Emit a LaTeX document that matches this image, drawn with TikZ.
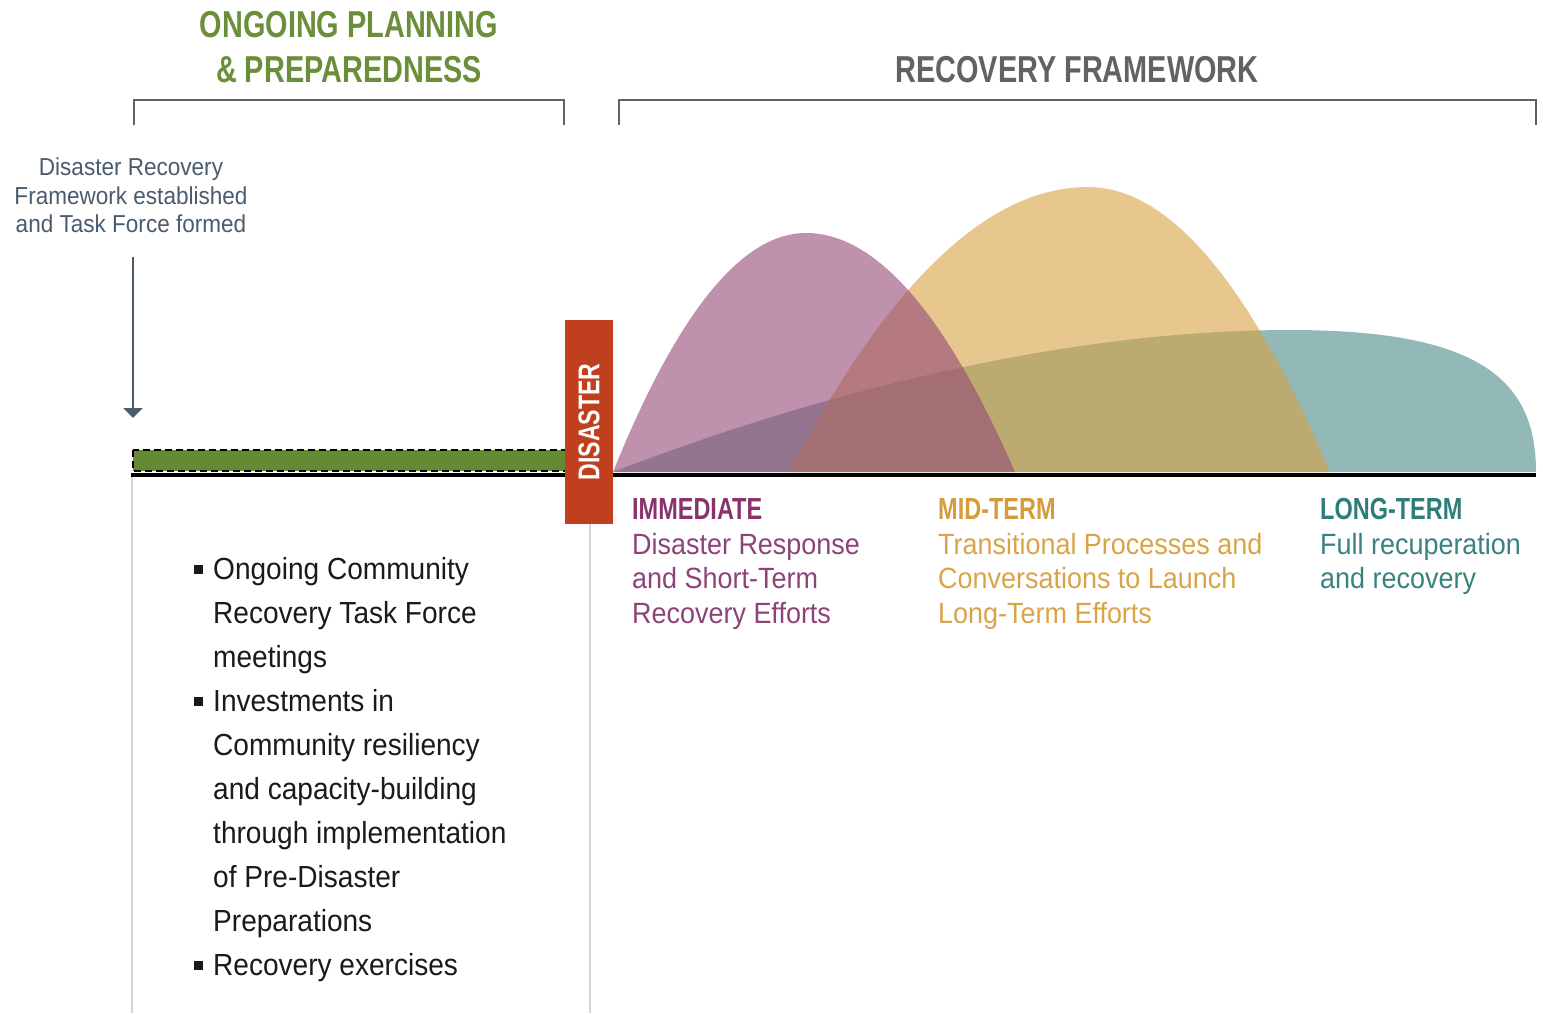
\documentclass[tikz,border=0pt]{standalone}
\usepackage{fontspec}
\setmainfont{Liberation Sans}[FakeStretch=0.92]
\newfontfamily\condbf{Liberation Sans}[FakeStretch=0.77]
\usetikzlibrary{arrows.meta}
\definecolor{purplec}{RGB}{148,72,118}
\definecolor{orangec}{RGB}{217,162,67}
\definecolor{tealc}{RGB}{73,138,137}
\definecolor{greenc}{RGB}{100,139,52}
\definecolor{greentitle}{RGB}{107,142,58}
\definecolor{graytitle}{RGB}{98,98,98}
\definecolor{slatec}{RGB}{74,91,108}
\definecolor{redc}{RGB}{191,63,31}
\definecolor{immc}{RGB}{138,50,110}
\definecolor{immtxt}{RGB}{140,68,120}
\definecolor{midc}{RGB}{214,155,58}
\definecolor{midtxt}{RGB}{216,164,74}
\definecolor{longc}{RGB}{47,125,123}
\definecolor{longtxt}{RGB}{56,130,128}
\definecolor{vline}{RGB}{212,212,212}
\definecolor{bodytxt}{RGB}{26,26,26}
\tikzset{
  bracket/.style={draw=graytitle, line width=1.8pt},
  title/.style={inner sep=0pt, align=center, font=\condbf\bfseries\fontsize{37.5}{45}\selectfont},
  head/.style={inner sep=0pt, anchor=north west, align=left, font=\condbf\bfseries\fontsize{30.5}{35}\selectfont},
  label/.style={inner sep=0pt, anchor=north west, align=left, font=\fontsize{29.3}{34.5}\selectfont},
  blob/.style={opacity=0.6},
}
\newcommand{\bul}{\makebox[19pt][l]{\raisebox{5.5pt}{\rule{9pt}{9pt}}}}
\begin{document}
\begin{tikzpicture}[x=1pt,y=-1pt]
\useasboundingbox (0,0) rectangle (1543,1013);
% titles
\node[title, text=greentitle, anchor=north] (t1) at (349,11) {ONGOING PLANNING\\\& PREPAREDNESS};
\node[title, text=graytitle, anchor=north] (t2) at (1077,56) {RECOVERY FRAMEWORK};
% brackets
\draw[bracket] (134,125) -- (134,100) -- (564,100) -- (564,125);
\draw[bracket] (619,125) -- (619,100) -- (1536,100) -- (1536,125);
% top-left note
\node[inner sep=0pt, anchor=north, align=center, text=slatec, font=\fontsize{24.5}{28.5}\selectfont] (drf) at (131,158) {Disaster Recovery\\Framework established\\and Task Force formed};
\coordinate (arrtop) at (133,257);
\coordinate (arrbot) at (133,418);
\draw[slatec, line width=2pt, -{Triangle[width=19pt,length=10pt]}] (arrtop) -- (arrbot);
% gray verticals
\draw[vline, line width=2pt] (132,477) -- (132,1013);
\draw[vline, line width=2pt] (590,524) -- (590,1013);
% curves
\fill[tealc, blob] (613,472) .. controls (800,400) and (1050,330) .. (1290,330) .. controls (1480,330) and (1536,380) .. (1536,472) -- cycle;
\fill[orangec, blob] (789,472) .. controls (888.67,282) and (988.33,187) .. (1088,187) .. controls (1168.67,187) and (1249.33,282) .. (1330,472) -- cycle;
\fill[purplec, blob] (613,472) .. controls (677.33,312.67) and (741.67,233) .. (806,233) .. controls (875.67,233) and (945.33,312.67) .. (1015,472) -- cycle;
% green bar and baseline
\draw[fill=greenc, draw=black, line width=2pt, dash pattern=on 7pt off 4pt] (133,450) rectangle (566,471);
\draw[black, line width=4.5pt] (131,475) -- (1536,475);
% disaster box
\node[fill=redc, rotate=90, minimum width=204pt, minimum height=48pt, inner sep=0pt, text=white, font=\condbf\bfseries\fontsize{30}{30}\selectfont] (dis) at (589,422) {DISASTER};
% phase labels
\node[head, text=immc] (imm) at (632,498) {IMMEDIATE};
\node[label, text=immtxt] (immt) at (632,533) {Disaster Response\\and Short-Term\\Recovery Efforts};
\node[head, text=midc] (mid) at (938,498) {MID-TERM};
\node[label, text=midtxt] (midt) at (938,533) {Transitional Processes and\\Conversations to Launch\\Long-Term Efforts};
\node[head, text=longc] (lng) at (1320,498) {LONG-TERM};
\node[label, text=longtxt] (lngt) at (1320,533) {Full recuperation\\and recovery};
% bullet list
\node[inner sep=0pt, anchor=north west, align=left, text=bodytxt, font=\fontsize{30.5}{44}\selectfont] (list) at (194,557)
 {\bul Ongoing Community\\\hspace*{19pt}Recovery Task Force\\\hspace*{19pt}meetings\\\bul Investments in\\\hspace*{19pt}Community resiliency\\\hspace*{19pt}and capacity-building\\\hspace*{19pt}through implementation\\\hspace*{19pt}of Pre-Disaster\\\hspace*{19pt}Preparations\\\bul Recovery exercises};
\end{tikzpicture}
\end{document}
